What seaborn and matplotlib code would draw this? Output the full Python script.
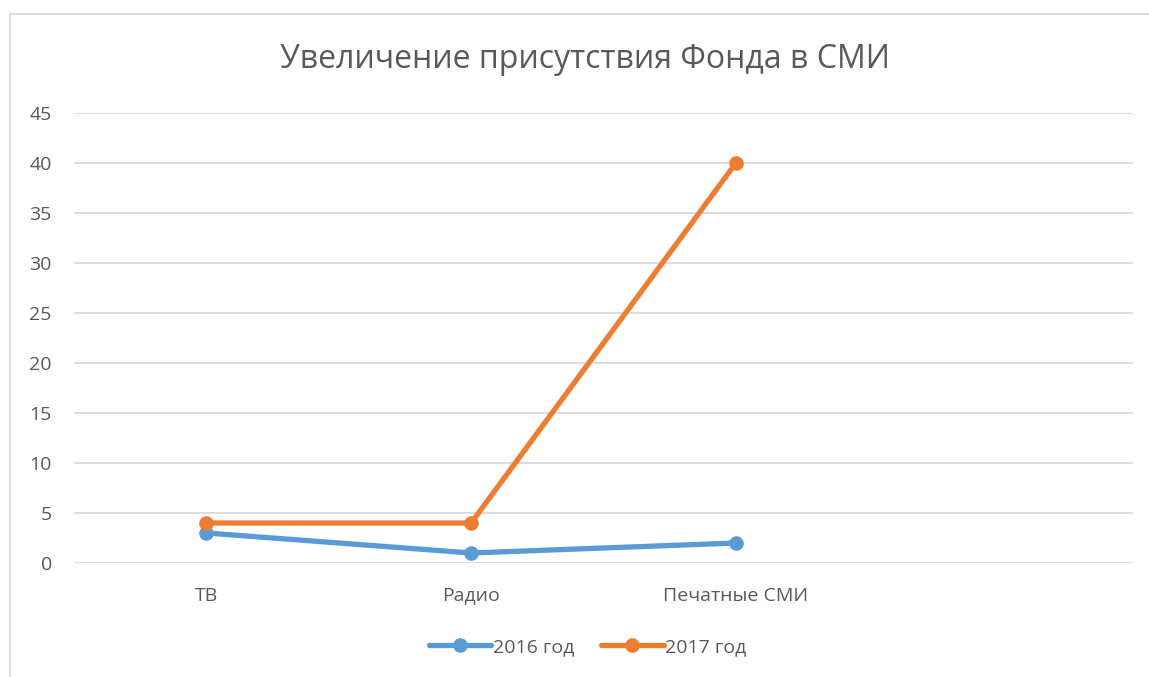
import matplotlib
matplotlib.use("Agg")
import matplotlib.pyplot as plt
from matplotlib.patches import Rectangle
import pandas as pd
import seaborn as sns

# chart data
categories = ["ТВ", "Радио", "Печатные СМИ"]
series_names = ["2016 год", "2017 год"]
values_2016 = [3, 1, 2]
values_2017 = [4, 4, 40]
y_ticks = [0, 5, 10, 15, 20, 25, 30, 35, 40, 45]

TEXT = "#595959"
GRID = "#D9D9D9"
palette = {"2016 год": "#5B9BD5", "2017 год": "#ED7D31"}

df = pd.DataFrame({
    "category": categories * 2,
    "series": [series_names[0]] * len(categories) + [series_names[1]] * len(categories),
    "value": values_2016 + values_2017,
})
df["pos"] = df["category"].map({c: i for i, c in enumerate(categories)})

sns.set_theme(style="white")
plt.rcParams["font.family"] = ["Open Sans", "DejaVu Sans"]

fig = plt.figure(figsize=(11.49, 6.77), dpi=100)
ax = fig.add_axes([74 / 1149, 1 - 563 / 677, (1133 - 74) / 1149, (563 - 113) / 677])

sns.lineplot(
    data=df, x="pos", y="value", hue="series", palette=palette,
    marker="o", markersize=10.5, markeredgewidth=0, linewidth=3.8,
    ax=ax, legend=True,
)

ax.set_xlim(-0.5, 3.5)
ax.set_ylim(0, 45)
ax.set_yticks(y_ticks)
ax.set_xticks(range(len(categories)))
ax.set_xticklabels(categories)
ax.yaxis.grid(True, color=GRID, linewidth=1.3)
ax.set_axisbelow(True)
for s in ax.spines.values():
    s.set_visible(False)
ax.tick_params(axis="both", length=0, labelsize=14, colors=TEXT)
ax.tick_params(axis="x", pad=17)
ax.tick_params(axis="y", pad=16)
ax.set_xlabel("")
ax.set_ylabel("")

leg = ax.legend(
    loc="center", bbox_to_anchor=(0.485, 1 - (647 - 113) / (563 - 113)),
    ncol=2, frameon=False, fontsize=14, handlelength=3.2, handletextpad=0.1,
    columnspacing=1.4,
)
for t in leg.get_texts():
    t.set_color(TEXT)

fig.text(0.509, 1 - 60 / 677, "Увеличение присутствия Фонда в СМИ",
         ha="center", va="center", fontsize=23, color=TEXT)

fig.patches.append(Rectangle((10 / 1149, -0.01), 1.0, 1 - 14 / 677 + 0.01,
                             transform=fig.transFigure, fill=False,
                             edgecolor=GRID, linewidth=1.3))

fig.savefig("out.png", dpi=100)
